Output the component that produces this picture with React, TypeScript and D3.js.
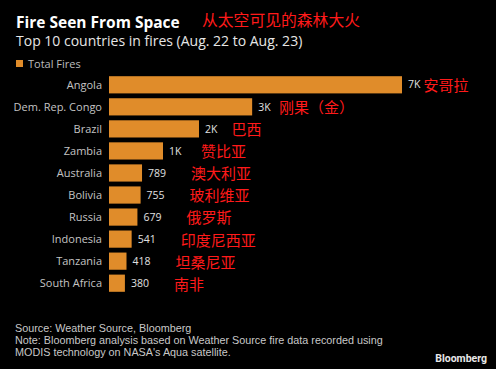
import { useRef, useEffect } from 'react';
import * as d3 from 'd3';

const countries = [
  'Angola',
  'Dem. Rep. Congo',
  'Brazil',
  'Zambia',
  'Australia',
  'Bolivia',
  'Russia',
  'Indonesia',
  'Tanzania',
  'South Africa',
];
const fires = [7000, 3420, 2150, 1290, 789, 755, 679, 541, 418, 380];
const valueLabels = ['7K', '3K', '2K', '1K', '789', '755', '679', '541', '418', '380'];
const chineseNames = [
  '安哥拉',
  '刚果（金）',
  '巴西',
  '赞比亚',
  '澳大利亚',
  '玻利维亚',
  '俄罗斯',
  '印度尼西亚',
  '坦桑尼亚',
  '南非',
];
const notes = [
  'Source: Weather Source, Bloomberg',
  'Note: Bloomberg analysis based on Weather Source fire data recorded using',
  "MODIS technology on NASA's Aqua satellite.",
];

const FONT = "'Open Sans', 'Noto Sans', sans-serif";
const CJK = "'Noto Sans CJK SC', sans-serif";

export default function App() {
  const svgRef = useRef<SVGSVGElement>(null);

  useEffect(() => {
    const svg = svgRef.current;
    if (!svg) return;

    const width = 496;
    const height = 369;
    const margin = { top: 74, left: 109 };

    const svgSel = d3.select(svg);
    svgSel.selectAll('*').remove();

    svgSel
      .append('rect')
      .attr('width', width)
      .attr('height', height)
      .attr('fill', '#000');

    // Title
    svgSel
      .append('text')
      .attr('x', 16)
      .attr('y', 28)
      .attr('fill', '#fff')
      .attr('font-family', FONT)
      .attr('font-weight', 700)
      .attr('font-size', '15.5px')
      .text('Fire Seen From Space');

    svgSel
      .append('text')
      .attr('x', 202)
      .attr('y', 26)
      .attr('fill', '#ff1a1a')
      .attr('font-family', CJK)
      .attr('font-size', '15.8px')
      .text('从太空可见的森林大火');

    svgSel
      .append('text')
      .attr('x', 16)
      .attr('y', 46)
      .attr('fill', '#e6e6e6')
      .attr('font-family', FONT)
      .attr('font-size', '14px')
      .text('Top 10 countries in fires (Aug. 22 to Aug. 23)');

    // Legend
    svgSel
      .append('rect')
      .attr('x', 16)
      .attr('y', 60)
      .attr('width', 7)
      .attr('height', 7)
      .attr('fill', '#e08c2a');
    svgSel
      .append('text')
      .attr('x', 28)
      .attr('y', 68)
      .attr('fill', '#bdbdbd')
      .attr('font-family', FONT)
      .attr('font-size', '11px')
      .text('Total Fires');

    // Scales
    const x = d3.scaleLinear().domain([0, 7000]).range([0, 293]);
    const y = d3
      .scaleBand()
      .domain(countries)
      .range([0, 220])
      .paddingInner(0.22)
      .paddingOuter(0.1);

    const g = svgSel
      .append('g')
      .attr('transform', `translate(${margin.left},${margin.top})`);

    const gapScale = d3.scaleLinear().domain([0, 4]).range([3, 25]).clamp(true);

    countries.forEach((name, i) => {
      const yy = y(name) ?? 0;
      const cy = yy + y.bandwidth() / 2;
      const w = x(fires[i]);

      g.append('rect')
        .attr('x', 0)
        .attr('y', yy)
        .attr('width', w)
        .attr('height', y.bandwidth())
        .attr('fill', '#e08c2a');

      g.append('text')
        .attr('x', -7)
        .attr('y', cy)
        .attr('dy', '0.35em')
        .attr('text-anchor', 'end')
        .attr('fill', '#c4c4c4')
        .attr('font-family', FONT)
        .attr('font-size', '11px')
        .text(name);

      const val = g
        .append('text')
        .attr('x', w + 6)
        .attr('y', cy)
        .attr('dy', '0.35em')
        .attr('fill', '#e0e0e0')
        .attr('font-family', FONT)
        .attr('font-size', '10.5px')
        .text(valueLabels[i]);

      const vw = (val.node() as SVGTextElement).getComputedTextLength();

      g.append('text')
        .attr('x', w + 6 + vw + gapScale(i))
        .attr('y', cy + 1)
        .attr('dy', '0.36em')
        .attr('fill', '#ff1a1a')
        .attr('font-family', CJK)
        .attr('font-size', '15px')
        .text(chineseNames[i]);
    });

    // Footer
    svgSel
      .selectAll('.note')
      .data(notes)
      .join('text')
      .attr('class', 'note')
      .attr('x', 15)
      .attr('y', (_, i) => 332 + i * 12)
      .attr('fill', '#c8c8c8')
      .attr('font-family', "'Liberation Sans', Arial, sans-serif")
      .attr('font-size', '10.8px')
      .text((d) => d);

    svgSel
      .append('text')
      .attr('x', 487)
      .attr('y', 362)
      .attr('text-anchor', 'end')
      .attr('fill', '#e8e8e8')
      .attr('font-family', "Roboto, 'Open Sans', sans-serif")
      .attr('font-weight', 700)
      .attr('font-size', '10.5px')
      .text('Bloomberg');
  }, []);

  return (
    <div style={{ position: 'fixed', left: 0, top: 0, width: 496, height: 369 }}>
      <svg ref={svgRef} width={496} height={369} style={{ display: 'block' }} />
    </div>
  );
}
